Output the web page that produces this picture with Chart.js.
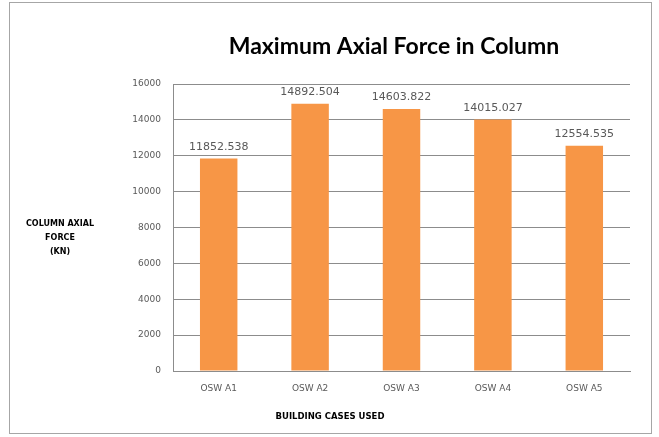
<!DOCTYPE html>
<html>
<head>
<meta charset="utf-8">
<script src="https://cdn.jsdelivr.net/npm/chart.js@4"></script>
<style>
  html, body { margin: 0; padding: 0; background: #fff; }
  #wrap { width: 659px; height: 437px; position: relative; }
</style>
</head>
<body>
<div id="wrap"><canvas id="canvas"></canvas></div>
<script>
// chart data
const cases = ['OSW A1', 'OSW A2', 'OSW A3', 'OSW A4', 'OSW A5'];
const axialForce = [11852.538, 14892.504, 14603.822, 14015.027, 12554.535];
const forceLabels = ['11852.538', '14892.504', '14603.822', '14015.027', '12554.535'];
const chartTitle = 'Maximum Axial Force in Column';
const yTitleLines = ['COLUMN AXIAL', 'FORCE', '(KN)'];
const xTitle = 'BUILDING CASES USED';

const gridGray = '#8c8c8c';
const textGray = '#595959';

// title, axis titles, value labels and the outer frame
const decor = {
  id: 'decor',
  afterDraw(chart) {
    const c = chart.ctx;
    c.save();
    c.strokeStyle = '#a6a6a6';
    c.lineWidth = 1;
    c.strokeRect(9.5, 2.5, 642, 431);

    c.fillStyle = '#000';
    c.textAlign = 'center';
    c.textBaseline = 'middle';
    c.font = 'bold 23px Lato, "Open Sans", sans-serif';
    c.fillText(chartTitle, 394, 47);

    c.font = 'bold 8px "DejaVu Sans", sans-serif';
    yTitleLines.forEach((t, i) => c.fillText(t, 60, 224 + i * 14));
    c.font = 'bold 8.5px "DejaVu Sans", sans-serif';
    c.fillText(xTitle, 330, 417);

    const meta = chart.getDatasetMeta(0);
    c.fillStyle = textGray;
    c.font = '11px "DejaVu Sans", sans-serif';
    c.textBaseline = 'bottom';
    meta.data.forEach((bar, i) => {
      c.fillText(forceLabels[i], bar.x, bar.y - 6);
    });
    c.restore();
  }
};

new Chart(document.getElementById('canvas'), {
  type: 'bar',
  data: {
    labels: cases,
    datasets: [{
      data: axialForce,
      backgroundColor: '#F79646',
      borderWidth: 0,
      categoryPercentage: 1,
      barPercentage: 0.41
    }]
  },
  options: {
    responsive: true,
    maintainAspectRatio: false,
    animation: false,
    layout: { padding: { top: 84, right: 29, left: 0, bottom: 0 } },
    plugins: {
      legend: { display: false },
      tooltip: { enabled: false },
      title: { display: false }
    },
    scales: {
      y: {
        min: 0,
        max: 16000,
        ticks: {
          stepSize: 2000,
          padding: 12,
          color: textGray,
          font: { family: '"DejaVu Sans", sans-serif', size: 9 },
          callback: (v) => String(v)
        },
        grid: { color: gridGray, drawTicks: false },
        border: { color: gridGray },
        afterFit(scale) { scale.width = 173; }
      },
      x: {
        ticks: {
          padding: 12,
          color: textGray,
          font: { family: '"DejaVu Sans", sans-serif', size: 9 }
        },
        grid: { display: false, drawTicks: false },
        border: { color: gridGray },
        afterFit(scale) { scale.height = 66; }
      }
    }
  },
  plugins: [decor]
});
</script>
</body>
</html>
